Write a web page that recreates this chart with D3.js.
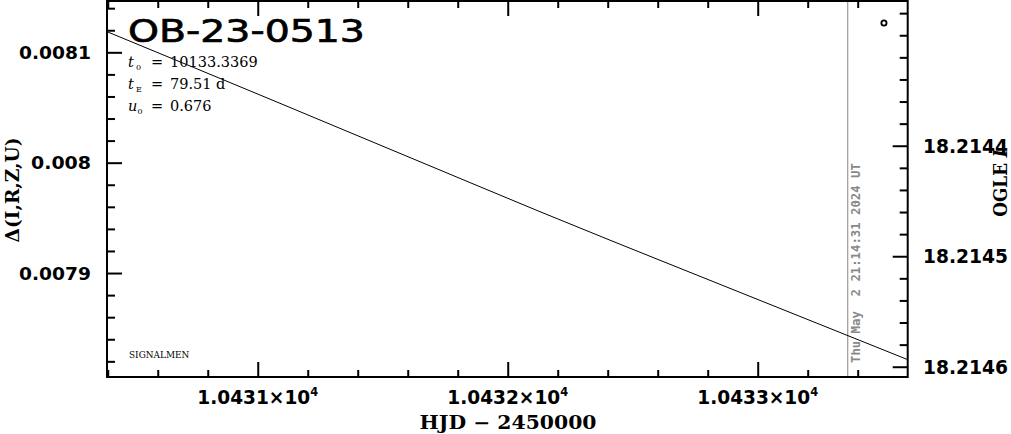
<!DOCTYPE html>
<html><head><meta charset="utf-8">
<script src="https://cdn.jsdelivr.net/npm/d3@7"></script>
<style>html,body{margin:0;padding:0;background:#fff;overflow:hidden}</style>
</head><body><svg id="c" width="1011" height="434"></svg>
<script>
// ---- data ----
const title = "OB-23-0513";
const paramSymbols = ["t", "t", "u"];
const paramSubs = ["0", "E", "0"];
const paramValues = ["10133.3369", "79.51 d", "0.676"];
const modelHJD = [10430.397, 10431.089, 10431.329, 10431.889, 10432.129, 10432.689, 10432.929, 10433.597];
const modelDelta = [0.0081187, 0.0080538, 0.0080311, 0.0079782, 0.0079556, 0.0079043, 0.0078825, 0.0078218];
const pointHJD = [10433.505];
const pointDelta = [0.0081266];
const xMajor = [10431, 10432, 10433];
const xMajorLabels = ["1.0431", "1.0432", "1.0433"];
const yMajor = [0.0079, 0.008, 0.0081];
const yMajorLabels = ["0.0079", "0.008", "0.0081"];
const magMajor = [18.2144, 18.2145, 18.2146];
const magLabels = ["18.2144", "18.2145", "18.2146"];
const nowHJD = 10433.36;
const nowLabel = "Thu May\u00a0\u00a02 21:14:31 2024 UT";
const xDomain = [10430.397, 10433.6];
const yDomain = [0.0078058, 0.0081465];
const magDomain = [18.2146093, 18.2142690];
const xLabel = "HJD \u2212 2450000";
const yLabel = "\u0394(I,R,Z,U)";
const credit = "SIGNALMEN";

// ---- layout ----
const L = 107, R = 907.7, T = 1, B = 377;
const svg = d3.select("#c");
const x = d3.scaleLinear().domain(xDomain).range([L, R]);
const y = d3.scaleLinear().domain(yDomain).range([B, T]);
const m = d3.scaleLinear().domain(magDomain).range([B, T]);

const xMinor = d3.range(0, 17).map(i => +(10430.4 + 0.2 * i).toFixed(1)).filter(v => v > xDomain[0] && v < xDomain[1] && !xMajor.includes(v));
const yMinor = d3.range(0, 20).map(i => +(0.00778 + 0.00002 * i).toFixed(5)).filter(v => v > yDomain[0] && v < yDomain[1] && !yMajor.some(t => Math.abs(t - v) < 1e-9));
const mMinor = d3.range(0, 20).map(i => +(18.21426 + 0.00002 * i).toFixed(5)).filter(v => v > magDomain[1] && v < magDomain[0] && !magMajor.some(t => Math.abs(t - v) < 1e-9));

function ticks(axis, tr, vals, size) {
  const g = svg.append("g").attr("transform", tr)
    .call(axis.tickValues(vals).tickSize(size).tickFormat(""));
  g.select(".domain").remove();
  g.selectAll("line").attr("stroke", "#000").attr("stroke-width", 2);
}
ticks(d3.axisBottom(x), `translate(0,${B})`, xMajor, -15);
ticks(d3.axisBottom(x), `translate(0,${B})`, xMinor, -7);
ticks(d3.axisTop(x), `translate(0,${T})`, xMajor, -15);
ticks(d3.axisTop(x), `translate(0,${T})`, xMinor, -7);
ticks(d3.axisLeft(y), `translate(${L},0)`, yMajor, -15);
ticks(d3.axisLeft(y), `translate(${L},0)`, yMinor, -8);
ticks(d3.axisRight(m), `translate(${R},0)`, magMajor, -15);
ticks(d3.axisRight(m), `translate(${R},0)`, mMinor, -8);

svg.append("clipPath").attr("id", "clip").append("rect")
  .attr("x", L).attr("y", T).attr("width", R - L).attr("height", B - T);

svg.append("line").attr("x1", x(nowHJD)).attr("x2", x(nowHJD)).attr("y1", T).attr("y2", B)
  .attr("stroke", "#999").attr("stroke-width", 1.2);

const lineData = modelHJD.map((h, i) => [h, modelDelta[i]]);
svg.append("path").datum(lineData).attr("clip-path", "url(#clip)")
  .attr("fill", "none").attr("stroke", "#000").attr("stroke-width", 1)
  .attr("d", d3.line().x(d => x(d[0])).y(d => y(d[1])).curve(d3.curveMonotoneX));

svg.selectAll("circle.pt").data(pointHJD.map((h, i) => [h, pointDelta[i]])).enter()
  .append("circle").attr("cx", d => x(d[0])).attr("cy", d => y(d[1])).attr("r", 2.6)
  .attr("fill", "none").attr("stroke", "#000").attr("stroke-width", 1.8);

svg.append("rect").attr("x", L).attr("y", T).attr("width", R - L).attr("height", B - T)
  .attr("fill", "none").attr("stroke", "#000").attr("stroke-width", 2);

function fit(g, tx, ty, target, rot) {
  const w = g.node().getBBox().width;
  const s = target / w;
  g.attr("transform", `translate(${tx},${ty})` + (rot ? ` rotate(${rot})` : "") + ` scale(${s},1)`);
}
const numFont = "'DejaVu Sans', sans-serif";
const serifFont = "'DejaVu Serif', serif";

xMajor.forEach((v, i) => {
  const g = svg.append("g");
  const t = g.append("text").attr("text-anchor", "middle").attr("font-family", numFont)
    .attr("font-weight", "bold").attr("font-size", 19.5).attr("fill", "#000");
  t.append("tspan").text(xMajorLabels[i] + "\u00d710");
  t.append("tspan").attr("dy", -8).attr("font-size", 12).text("4");
  fit(g, x(v), 404, 121);
});
yMajor.forEach((v, i) => {
  const g = svg.append("g");
  g.append("text").attr("text-anchor", "end").attr("font-family", numFont)
    .attr("font-weight", "bold").attr("font-size", 18.5).text(yMajorLabels[i]);
  fit(g, 91, y(v) + 6.5, yMajorLabels[i].length * 12);
});
magMajor.forEach((v, i) => {
  const g = svg.append("g");
  g.append("text").attr("text-anchor", "start").attr("font-family", numFont)
    .attr("font-weight", "bold").attr("font-size", 19).text(magLabels[i]);
  fit(g, 923, m(v) + 7, 85);
});

{
  const g = svg.append("g");
  g.append("text").attr("text-anchor", "middle").attr("font-family", serifFont)
    .attr("font-weight", "bold").attr("font-size", 18).text(xLabel);
  fit(g, 508, 429, 177);
}
{
  const g = svg.append("g");
  g.append("text").attr("text-anchor", "middle").attr("font-family", serifFont)
    .attr("font-weight", "bold").attr("font-size", 18).text(yLabel);
  fit(g, 19, 190, 105, -90);
}
{
  const g = svg.append("g");
  const t = g.append("text").attr("text-anchor", "middle").attr("font-family", serifFont)
    .attr("font-weight", "bold").attr("font-size", 18);
  t.append("tspan").text("OGLE ");
  t.append("tspan").attr("font-style", "italic").text("I");
  fit(g, 1007, 183, 68, -90);
}

{
  const g = svg.append("g");
  g.append("text").attr("text-anchor", "start").attr("font-family", "'DejaVu Sans Mono', monospace")
    .attr("font-weight", "bold").attr("font-size", 12).attr("fill", "#888").text(nowLabel);
  fit(g, x(nowHJD) + 12.5, 363, 200, -90);
}

{
  const g = svg.append("g");
  g.append("text").attr("font-family", numFont).attr("font-size", 32)
    .attr("stroke", "#000").attr("stroke-width", 0.7).text(title);
  fit(g, 128, 41.5, 237);
}

const baseY = [66.7, 88.7, 111];
paramSymbols.forEach((s, i) => {
  const g = svg.append("g").attr("transform", `translate(0,${baseY[i]})`);
  g.append("text").attr("x", 128).attr("font-family", serifFont).attr("font-style", "italic")
    .attr("font-size", 14.5).text(s);
  g.append("text").attr("x", s === "u" ? 137.5 : 136).attr("y", 3).attr("font-family", serifFont)
    .attr("font-size", 8).text(paramSubs[i]);
  g.append("text").attr("x", 151).attr("font-family", serifFont).attr("font-size", 14.5).text("=");
  g.append("text").attr("x", 170).attr("font-family", serifFont).attr("font-size", 14.5).text(paramValues[i]);
});

{
  const g = svg.append("g");
  g.append("text").attr("font-family", serifFont).attr("font-size", 8.5).text(credit);
  fit(g, 129, 358, 61);
}
</script>
</body></html>
